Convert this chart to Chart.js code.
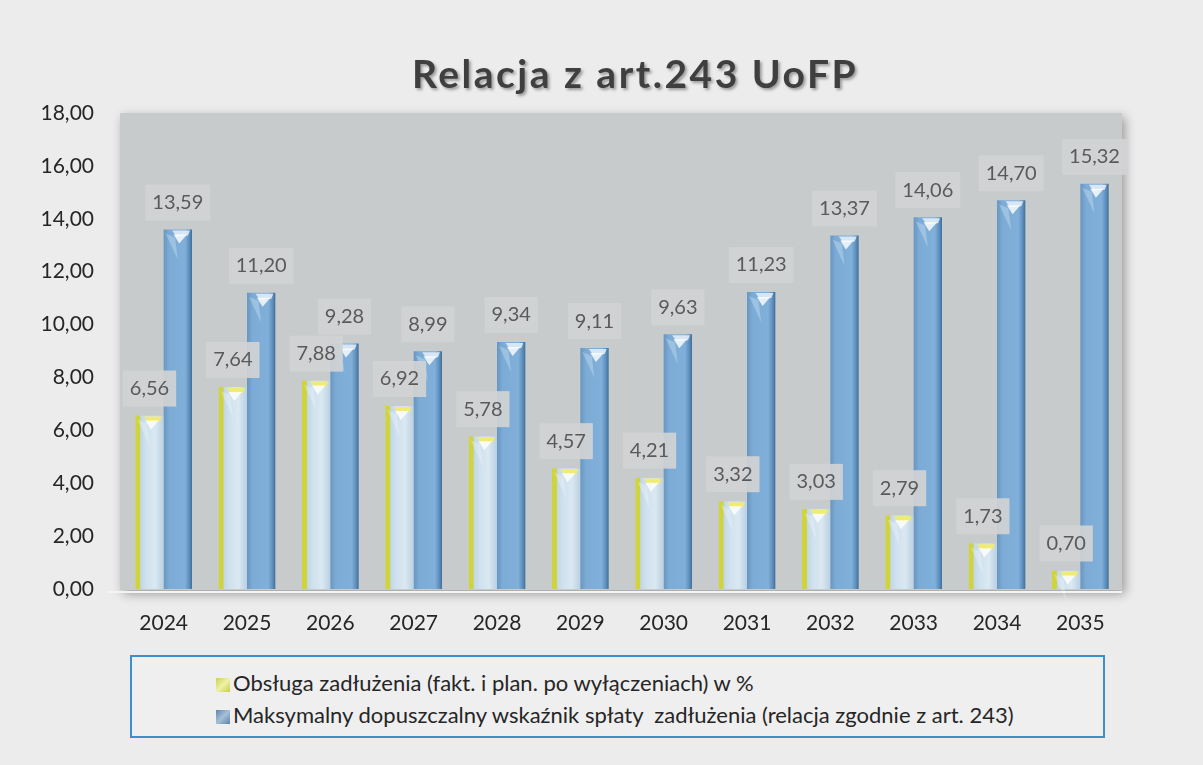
<!DOCTYPE html>
<html lang="pl">
<head>
    <meta charset="UTF-8">
    <title>Relacja z art.243 UoFP</title>
    <script src="https://cdn.jsdelivr.net/npm/chart.js"></script>
    <style>
        html, body {
            margin: 0;
            height: 100%;
        }

        body {
            background: #ececec;
            font-family: Lato, sans-serif;
        }

        #wrap {
            position: relative;
            width: 1203px;
            height: 765px;
        }

        #legend {
            position: absolute;
            left: 130px;
            top: 655px;
            width: 975px;
            height: 83px;
            box-sizing: border-box;
            border: 2px solid #3a8fcc;
            background: #efefef;
            padding: 10px 0 0 84px;
            font-size: 22px;
            color: #262626;
        }

        .item {
            height: 32px;
            line-height: 32px;
            white-space: pre;
        }

        .mark {
            display: inline-block;
            width: 14px;
            height: 14px;
            margin-right: 3px;
            vertical-align: -1px;
        }
    </style>
</head>
<body>
    <div id="wrap">
        <canvas id="chart" width="1203" height="765"></canvas>
        <div id="legend"></div>
    </div>

    <script>
        const years = ['2024', '2025', '2026', '2027', '2028', '2029', '2030', '2031', '2032', '2033', '2034', '2035'];
        const obsluga = [6.56, 7.64, 7.88, 6.92, 5.78, 4.57, 4.21, 3.32, 3.03, 2.79, 1.73, 0.70];
        const maksymalny = [13.59, 11.20, 9.28, 8.99, 9.34, 9.11, 9.63, 11.23, 13.37, 14.06, 14.70, 15.32];
        const seriesNames = [
            'Obsługa zadłużenia (fakt. i plan. po wyłączeniach) w %',
            'Maksymalny dopuszczalny wskaźnik spłaty  zadłużenia (relacja zgodnie z art. 243)'
        ];
        const chartTitle = 'Relacja z art.243 UoFP';

        const CAT_PCT = 0.68;

        function fmt(v) {
            return v.toFixed(2).replace('.', ',');
        }

        // horizontal shading across each bar, computed from the x scale
        function barGradient(ctx, stops, fallback) {
            const chart = ctx.chart;
            const x = chart.scales.x;
            if (!chart.chartArea || !x || ctx.dataIndex === undefined) return fallback;
            const catW = (x.right - x.left) / years.length;
            const groupW = catW * CAT_PCT;
            const barW = groupW / 2;
            const left = x.getPixelForValue(ctx.dataIndex) - groupW / 2 + ctx.datasetIndex * barW;
            const g = chart.ctx.createLinearGradient(left, 0, left + barW, 0);
            stops.forEach(s => g.addColorStop(s[0], s[1]));
            return g;
        }

        const plotBackground = {
            id: 'plotBackground',
            beforeDraw(chart) {
                const { ctx, chartArea: a } = chart;
                ctx.save();
                ctx.shadowColor = 'rgba(0,0,0,0.35)';
                ctx.shadowBlur = 10;
                ctx.shadowOffsetX = 3;
                ctx.shadowOffsetY = 4;
                ctx.fillStyle = '#c7cbcc';
                ctx.fillRect(a.left - 2, a.top, a.right - a.left + 2, a.bottom - a.top + 1);
                ctx.restore();
                ctx.save();
                ctx.strokeStyle = '#f4f4f4';
                ctx.lineWidth = 2;
                ctx.beginPath();
                ctx.moveTo(a.left - 14, a.bottom + 3);
                ctx.lineTo(a.right, a.bottom + 3);
                ctx.stroke();
                ctx.restore();

                // title with a soft shadow, centred over the plot
                ctx.save();
                ctx.font = 'bold 39px Lato';
                ctx.letterSpacing = '2.5px';
                ctx.textAlign = 'center';
                ctx.textBaseline = 'alphabetic';
                ctx.shadowColor = 'rgba(0,0,0,0.35)';
                ctx.shadowBlur = 3;
                ctx.shadowOffsetX = 2;
                ctx.shadowOffsetY = 2;
                ctx.fillStyle = '#3f3f3f';
                ctx.fillText(chartTitle, 635, 88);
                ctx.restore();
            }
        };

        const barCaps = {
            id: 'barCaps',
            afterDatasetsDraw(chart) {
                const c = chart.ctx;
                c.save();
                chart.data.datasets.forEach((ds, di) => {
                    chart.getDatasetMeta(di).data.forEach(bar => {
                        const l = bar.x - bar.width / 2;
                        const r = bar.x + bar.width / 2;
                        const t = bar.y;
                        c.fillStyle = di === 0 ? 'rgba(240,235,110,0.95)' : 'rgba(225,236,248,0.9)';
                        c.beginPath();
                        c.moveTo(l + bar.width * 0.3, t + 1);
                        c.lineTo(r - 2, t + 1);
                        c.lineTo(r - 4, t + 6);
                        c.lineTo(l + bar.width * 0.45, t + 7);
                        c.closePath();
                        c.fill();
                        c.fillStyle = 'rgba(255,255,255,0.8)';
                        c.beginPath();
                        c.moveTo(l + bar.width * 0.35, t + 5);
                        c.lineTo(r - 5, t + 5);
                        c.lineTo(l + bar.width * 0.55, t + 14);
                        c.closePath();
                        c.fill();
                        c.fillStyle = 'rgba(255,255,255,0.25)';
                        c.beginPath();
                        c.moveTo(l + 2, t + 4);
                        c.lineTo(l + bar.width * 0.4, t + 8);
                        c.lineTo(l + bar.width * 0.5, t + 30);
                        c.closePath();
                        c.fill();
                    });
                });
                c.restore();
            }
        };

        const valueLabels = {
            id: 'valueLabels',
            afterDatasetsDraw(chart) {
                const c = chart.ctx;
                c.save();
                c.font = '20px Lato';
                c.textAlign = 'center';
                c.textBaseline = 'middle';
                [1, 0].forEach(di => {
                    const values = chart.data.datasets[di].data;
                    chart.getDatasetMeta(di).data.forEach((bar, i) => {
                        const txt = fmt(values[i]);
                        const w = c.measureText(txt).width + 14;
                        const cy = bar.y - 27;
                        c.fillStyle = 'rgba(208,211,212,0.92)';
                        c.fillRect(bar.x - w / 2, cy - 18, w, 36);
                        c.fillStyle = '#5a5a5a';
                        c.fillText(txt, bar.x, cy);
                    });
                });
                c.restore();
            }
        };

        const lightStops = [[0, '#b6cde0'], [0.4, '#d0e2ee'], [0.7, '#dae8f2'], [1, '#bad0e2']];
        const blueStops = [[0, '#6796c0'], [0.2, '#7cacd6'], [0.75, '#80b0d9'], [0.9, '#5e8ebb'], [1, '#3f6f99']];

        const chart = new Chart(document.getElementById('chart'), {
            type: 'bar',
            data: {
                labels: years,
                datasets: [{
                    label: seriesNames[0],
                    data: obsluga,
                    backgroundColor: ctx => barGradient(ctx, lightStops, '#c8dcea'),
                    borderColor: '#cfd43a',
                    borderWidth: { left: 5, top: 0, right: 0, bottom: 0 },
                    borderSkipped: false
                }, {
                    label: seriesNames[1],
                    data: maksymalny,
                    backgroundColor: ctx => barGradient(ctx, blueStops, '#78a8d2'),
                    borderWidth: 0
                }]
            },
            options: {
                responsive: false,
                animation: false,
                categoryPercentage: CAT_PCT,
                barPercentage: 1,
                layout: {
                    padding: { top: 113, right: 81, bottom: 120, left: 0 }
                },
                plugins: {
                    legend: { display: false },
                    tooltip: { enabled: false },
                    title: { display: false }
                },
                scales: {
                    x: {
                        grid: { display: false },
                        border: { display: false },
                        ticks: {
                            color: '#262626',
                            font: { family: 'Lato', size: 21 },
                            padding: 14
                        },
                        afterFit: scale => { scale.height = 56; }
                    },
                    y: {
                        min: 0,
                        max: 18,
                        grid: { display: false },
                        border: { display: false },
                        ticks: {
                            stepSize: 2,
                            color: '#262626',
                            font: { family: 'Lato', size: 21 },
                            padding: 20,
                            callback: v => fmt(v)
                        },
                        afterFit: scale => { scale.width = 122; }
                    }
                }
            },
            plugins: [plotBackground, barCaps, valueLabels]
        });

        // legend box under the chart
        const markColors = [
            'linear-gradient(135deg, #c9d34a, #eef2a8 50%, #c6cf45)',
            'linear-gradient(135deg, #5f86b0, #a7bfd8 50%, #5a82ad)'
        ];
        const legend = document.getElementById('legend');
        seriesNames.forEach((name, i) => {
            const row = document.createElement('div');
            row.className = 'item';
            const m = document.createElement('span');
            m.className = 'mark';
            m.style.background = markColors[i];
            row.appendChild(m);
            row.appendChild(document.createTextNode(name));
            legend.appendChild(row);
        });
    </script>
</body>
</html>
